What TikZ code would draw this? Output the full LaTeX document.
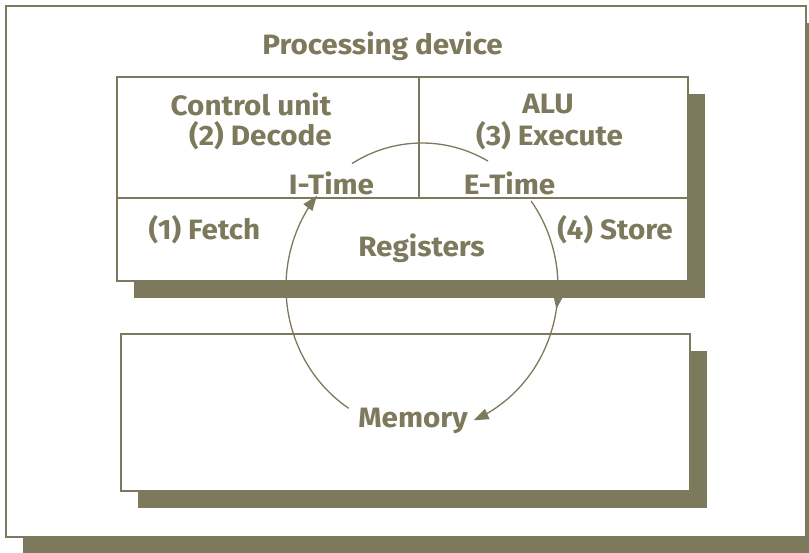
\documentclass[tikz,border=0pt]{standalone}
\usepackage{fontspec}
\setmainfont[FakeStretch=1.06]{Fira Sans}
\usetikzlibrary{arrows.meta,decorations.markings,shadows}
\definecolor{olv}{RGB}{125,121,92}
\begin{document}
\begin{tikzpicture}[x=1pt,y=-1pt,
  box/.style={draw=olv, line width=2pt, fill=white, inner sep=0pt, outer sep=0pt, anchor=north west,
    drop shadow={shadow xshift=17pt, shadow yshift=-17pt, fill=olv, draw=none, opacity=1}},
  lbl/.style={text=olv, font=\fontsize{28}{31}\selectfont\bfseries, inner sep=0pt, anchor=base},
  flow/.style={draw=olv, line width=1.3pt},
  tipa/.style={-{Triangle[length=15pt,width=11pt]}}
]
\useasboundingbox (0,0) rectangle (809,552);
\clip (0,0) rectangle (809,552);
% boxes
\node[box, minimum width=800pt, minimum height=531pt] (frame) at (6,6) {};
\node[box, minimum width=571pt, minimum height=204pt] (cpu) at (117,77) {};
\node[box, minimum width=569pt, minimum height=157pt] (mem) at (121,334) {};
% dividers
\coordinate (hl) at (117,198);
\coordinate (hr) at (688,198);
\coordinate (vt) at (419,77);
\coordinate (vb) at (419,198);
\draw[olv, line width=2pt] (hl) -- (hr);
\draw[olv, line width=2pt] (vt) -- (vb);
% labels
\node[lbl] (proc) at (382.5,54) {Processing device};
\node[lbl] (cu) at (251,115) {Control unit};
\node[lbl] (dec) at (260.5,145) {(2) Decode};
\node[lbl] (alu) at (548,113) {ALU};
\node[lbl] (exe) at (549.5,145) {(3) Execute};
\node[lbl] (itime) at (331.5,194) {I-Time};
\node[lbl] (etime) at (509.5,194) {E-Time};
\node[lbl] (fetch) at (204.5,239) {(1) Fetch};
\node[lbl] (reg) at (421.5,256) {Registers};
\node[lbl] (store) at (615,239) {(4) Store};
\node[lbl] (memt) at (413,427) {Memory};
% cycle
\coordinate (ctr) at (422,287);
\draw[flow] plot[domain=-121:-61, samples=40] ({422+136*cos(\x)},{287+144*sin(\x)});
\draw[flow, tipa] plot[domain=122.6:219.4, samples=60] ({422+136*cos(\x)},{287+144*sin(\x)});
\draw[flow, tipa, postaction={decorate}, decoration={markings, mark=at position 0.44 with {\arrow{Triangle[length=14pt,width=10pt]}}}]
  plot[domain=-36.7:67.7, samples=60] ({422+136*cos(\x)},{287+144*sin(\x)});
\end{tikzpicture}
\end{document}
